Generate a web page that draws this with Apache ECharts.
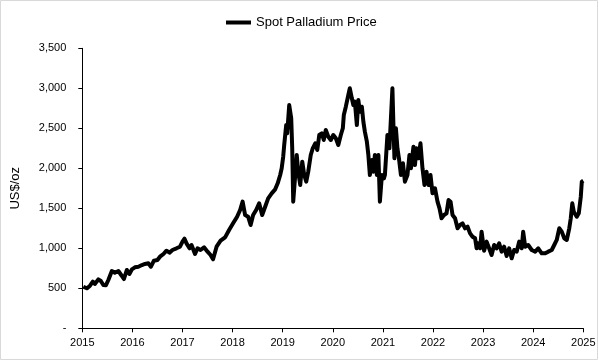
<!DOCTYPE html>
<html>
<head>
<meta charset="utf-8">
<script src="https://cdn.jsdelivr.net/npm/echarts@6/dist/echarts.min.js"></script>
<style>
html,body{margin:0;padding:0;background:#fff;}
#chart{width:599px;height:361px;}
</style>
</head>
<body>
<div id="chart"></div>
<script>
// Decimal-year positions and spot palladium price (US$/oz)
var dates = [
2015.02,2015.09,2015.15,2015.21,2015.25,2015.32,2015.37,2015.42,2015.47,2015.52,
2015.59,2015.65,2015.72,2015.79,2015.83,2015.89,2015.94,2015.99,2016.05,2016.12,
2016.19,2016.25,2016.32,2016.37,2016.43,2016.50,2016.55,2016.62,2016.68,2016.74,
2016.80,2016.88,2016.95,2017.00,2017.04,2017.08,2017.14,2017.18,2017.25,2017.30,
2017.36,2017.43,2017.50,2017.56,2017.61,2017.68,2017.76,2017.85,2017.93,2018.01,
2018.09,2018.15,2018.20,2018.25,2018.31,2018.36,2018.41,2018.47,2018.53,2018.59,
2018.65,2018.71,2018.78,2018.85,2018.90,2018.95,2018.98,2019.01,2019.03,2019.07,
2019.09,2019.13,2019.17,2019.19,2019.21,2019.25,2019.28,2019.31,2019.35,2019.39,
2019.43,2019.47,2019.51,2019.56,2019.60,2019.65,2019.69,2019.73,2019.78,2019.82,
2019.86,2019.91,2019.96,2020.01,2020.06,2020.11,2020.16,2020.20,2020.22,2020.26,
2020.31,2020.34,2020.38,2020.41,2020.44,2020.48,2020.51,2020.54,2020.58,2020.61,
2020.64,2020.68,2020.71,2020.74,2020.78,2020.81,2020.84,2020.88,2020.91,2020.94,
2020.98,2021.02,2021.04,2021.09,2021.13,2021.16,2021.19,2021.21,2021.23,2021.26,
2021.29,2021.32,2021.36,2021.40,2021.44,2021.49,2021.53,2021.56,2021.61,2021.64,
2021.67,2021.71,2021.75,2021.79,2021.83,2021.87,2021.91,2021.95,2021.99,2022.04,
2022.09,2022.13,2022.17,2022.22,2022.27,2022.31,2022.35,2022.39,2022.44,2022.49,
2022.54,2022.59,2022.64,2022.69,2022.74,2022.79,2022.84,2022.87,2022.90,2022.94,
2022.97,2023.02,2023.07,2023.12,2023.17,2023.22,2023.27,2023.32,2023.37,2023.42,
2023.47,2023.52,2023.57,2023.62,2023.67,2023.72,2023.77,2023.80,2023.84,2023.90,
2023.97,2024.04,2024.10,2024.17,2024.24,2024.30,2024.37,2024.42,2024.47,2024.52,
2024.57,2024.62,2024.67,2024.72,2024.75,2024.78,2024.81,2024.87,2024.91,2024.95,
2024.97,2025.00
];
var prices = [
520,500,529,583,554,612,591,541,537,604,
716,695,716,654,616,729,679,737,762,770,
791,804,812,770,845,854,895,929,970,945,
979,1000,1020,1083,1120,1062,1000,1041,929,1000,
979,1012,958,916,862,1020,1095,1137,1229,1312,
1395,1479,1583,1416,1395,1291,1416,1479,1562,1416,
1520,1625,1687,1737,1812,1916,2000,2145,2291,2541,
2437,2791,2625,2250,1583,1916,2166,1958,1791,2083,
1916,1833,1958,2166,2250,2312,2229,2416,2437,2354,
2479,2395,2354,2416,2375,2291,2416,2500,2666,2770,
2916,3000,2875,2791,2833,2541,2854,2708,2770,2583,
2458,2333,2166,1916,2104,1958,2166,1916,2166,1583,
1916,1875,1916,2416,2250,2625,3000,2541,2125,2500,
2250,2125,1916,2062,1833,1916,2166,2000,2270,2041,
2250,2125,2312,2000,1791,1958,1791,1916,1687,1750,
1583,1500,1375,1416,1437,1604,1583,1416,1375,1250,
1291,1312,1250,1270,1187,1145,1125,1000,1062,1000,
1208,970,1083,1000,916,1041,1000,1062,958,1020,
904,1000,875,979,958,1083,1000,1208,1020,1041,
979,958,1000,937,937,958,979,1041,1104,1250,
1208,1125,1104,1250,1375,1562,1458,1395,1437,1645,
1833,1845
];
var xTickYears = [2015,2016,2017,2018,2019,2020,2021,2022,2023,2024,2025];
var yTicks = [0,500,1000,1500,2000,2500,3000,3500];
var seriesName = 'Spot Palladium Price';
var yAxisTitle = 'US$/oz';

var points = dates.map(function(d,i){return [d, prices[i]];});
var font = '"Liberation Sans", Arial, sans-serif';

var chart = echarts.init(document.getElementById('chart'), null, {renderer:'canvas'});
chart.setOption({
  animation:false,
  backgroundColor:'#fff',
  grid:{left:82.3, right:15.7, top:48.3, bottom:32.7, containLabel:false},
  legend:{
    data:[{name:seriesName, icon:'rect'}],
    left:221, top:11,
    itemWidth:25, itemHeight:4, itemGap:5,
    textStyle:{fontFamily:font, fontSize:13, color:'#000'}
  },
  xAxis:{
    type:'value',
    min:xTickYears[0], max:xTickYears[xTickYears.length-1], interval:1,
    splitLine:{show:false},
    axisLine:{show:true, onZero:false, lineStyle:{color:'#000', width:1}},
    axisTick:{show:true, length:4, lineStyle:{color:'#000'}},
    axisLabel:{fontFamily:font, fontSize:11, color:'#000', margin:9,
      formatter:function(v){return String(v);}}
  },
  yAxis:{
    type:'value',
    min:yTicks[0], max:yTicks[yTicks.length-1], interval:500,
    name:yAxisTitle, nameLocation:'middle', nameGap:60, nameRotate:90,
    nameTextStyle:{fontFamily:font, fontSize:13, color:'#000'},
    splitLine:{show:false},
    axisLine:{show:true, lineStyle:{color:'#000', width:1}},
    axisTick:{show:true, length:4, lineStyle:{color:'#000'}},
    axisLabel:{fontFamily:font, fontSize:11, color:'#000', margin:16,
      formatter:function(v){return v===0?'-':v.toLocaleString('en-US');}}
  },
  graphic:[{type:'rect', shape:{x:0.5,y:0.5,width:597,height:359},
    style:{fill:null, stroke:'#d9d9d9', lineWidth:1}, silent:true, z:100}],
  series:[{
    name:seriesName, type:'line', data:points,
    showSymbol:false, symbol:'none',
    lineStyle:{color:'#000', width:4, join:'round'},
    itemStyle:{color:'#000'}
  }]
});
</script>
</body>
</html>
